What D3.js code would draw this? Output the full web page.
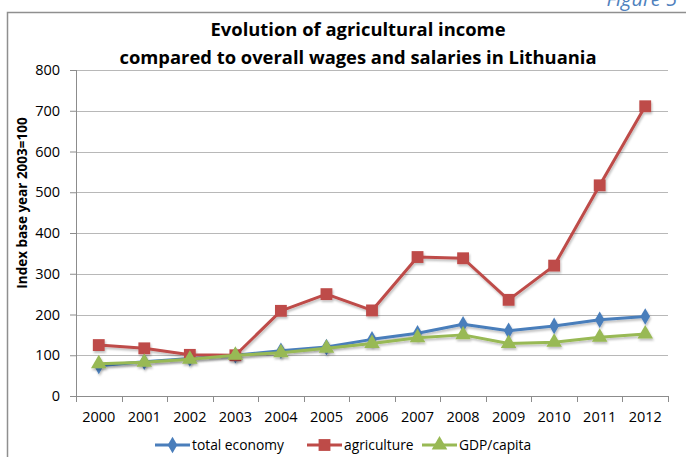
<!DOCTYPE html>
<html>
<head>
<meta charset="utf-8">
<script src="https://cdn.jsdelivr.net/npm/d3@7"></script>
<style>
  body { margin: 0; background: #fff; }
  text { font-family: "Open Sans", sans-serif; fill: #000; }
  .grid line { stroke: #b8b8b8; }
  .axis path, .axis line { stroke: #8c8c8c; }
  .axis text { font-size: 14.5px; }
  .series path.line { fill: none; stroke-width: 3px; stroke-linejoin: round; }
</style>
</head>
<body>
<div class="chart"></div>
<script>
// Evolution of agricultural income vs wages, Lithuania (index 2003=100)
var years = ["2000", "2001", "2002", "2003", "2004", "2005", "2006", "2007", "2008", "2009", "2010", "2011", "2012"];
var totalEconomy = [74, 84, 92, 100, 111, 120, 139, 154, 176, 160, 172, 187, 195];
var agriculture = [125, 117, 101, 100, 209, 250, 210, 341, 338, 236, 320, 517, 711];
var gdpCapita = [79, 83, 90, 100, 106, 117, 129, 143, 150, 129, 132, 144, 152];
var yTicks = [0, 100, 200, 300, 400, 500, 600, 700, 800];
var seriesNames = ["total economy", "agriculture", "GDP/capita"];

var width = 686,
	height = 457,
	margin = {top: 70, right: 18, bottom: 61, left: 76},
	w = width - margin.left - margin.right,
	h = height - margin.top - margin.bottom;

var svg = d3.select(".chart").append("svg")
	.attr("width", width)
	.attr("height", height);

// soft shadow like the office chart lines
var shadow = svg.append("defs").append("filter")
	.attr("id", "shadow")
	.attr("x", "-10%").attr("y", "-10%")
	.attr("width", "120%").attr("height", "130%");
shadow.append("feDropShadow")
	.attr("dx", 1).attr("dy", 2)
	.attr("stdDeviation", 1.2)
	.attr("flood-color", "#000")
	.attr("flood-opacity", 0.25);

// outer frame of the figure
svg.append("path")
	.attr("d", "M7.5," + height + "V12.5H" + width)
	.attr("fill", "none")
	.attr("stroke", "#8f8f8f")
	.attr("stroke-width", 1.5);

svg.append("text")
	.attr("x", 677)
	.attr("y", 6)
	.attr("text-anchor", "end")
	.style("font-size", "20px")
	.style("font-style", "italic")
	.style("fill", "#4f81bd")
	.text("Figure 5");

var title = svg.append("g").attr("class", "title");
title.append("text")
	.attr("x", 358).attr("y", 36)
	.attr("text-anchor", "middle")
	.attr("textLength", 295).attr("lengthAdjust", "spacingAndGlyphs")
	.style("font-size", "18px").style("font-weight", "bold")
	.text("Evolution of agricultural income");
title.append("text")
	.attr("x", 358).attr("y", 64)
	.attr("text-anchor", "middle")
	.attr("textLength", 477).attr("lengthAdjust", "spacingAndGlyphs")
	.style("font-size", "18px").style("font-weight", "bold")
	.text("compared to overall wages and salaries in Lithuania");

var g = svg.append("g")
	.attr("transform", "translate(" + margin.left + "," + margin.top + ")");

var x = d3.scaleBand().domain(years).range([0, w]).padding(0),
	y = d3.scaleLinear().domain([0, 800]).range([h, 0]);

var colors = d3.scaleOrdinal()
	.domain(seriesNames)
	.range(["#4a7ebb", "#be4b48", "#98b954"]);
var symbols = [d3.symbolDiamond, d3.symbolSquare, d3.symbolTriangle];
var symSizes = [80, 140, 105];

// horizontal gridlines
g.append("g")
	.attr("class", "grid")
	.selectAll("line")
	.data(yTicks.slice(1))
	.enter().append("line")
		.attr("x1", 0)
		.attr("x2", w)
		.attr("y1", function(d) { return Math.round(y(d)) + 0.5; })
		.attr("y2", function(d) { return Math.round(y(d)) + 0.5; });

var yAxis = g.append("g")
	.attr("class", "axis axis--y")
	.call(d3.axisLeft(y).tickValues(yTicks).tickSize(6).tickPadding(10));
yAxis.select(".domain").attr("d", "M0.5,0V" + h);

var xAxis = g.append("g")
	.attr("class", "axis axis--x")
	.attr("transform", "translate(0," + h + ")")
	.call(d3.axisBottom(x).tickSize(0).tickPadding(16));
xAxis.select(".domain").attr("d", "M0,0.5H" + w);
xAxis.selectAll(".bound")
	.data(d3.range(years.length + 1))
	.enter().append("line")
		.attr("class", "bound")
		.attr("x1", function(i) { return Math.round(i * x.bandwidth()) + 0.5; })
		.attr("x2", function(i) { return Math.round(i * x.bandwidth()) + 0.5; })
		.attr("y1", 0)
		.attr("y2", 6);

g.append("text")
	.attr("transform", "translate(-49," + (h / 2 - 30) + ") rotate(-90)")
	.attr("text-anchor", "middle")
	.style("font-size", "13.5px")
	.style("font-weight", "bold")
	.text("Index base year 2003=100");

var data = [totalEconomy, agriculture, gdpCapita].map(function(vals, i) {
	return {
		id: seriesNames[i],
		sym: d3.symbol().type(symbols[i]).size(symSizes[i]),
		values: vals.map(function(v, j) { return {year: years[j], value: v}; })
	};
});

var myline = d3.line()
	.x(function(d) { return x(d.year) + x.bandwidth() / 2; })
	.y(function(d) { return y(d.value); });

var series = g.selectAll(".series")
	.data(data)
	.enter().append("g")
		.attr("class", "series")
		.attr("filter", "url(#shadow)");

series.append("path")
	.attr("class", "line")
	.attr("d", function(d) { return myline(d.values); })
	.style("stroke", function(d) { return colors(d.id); });

series.each(function(s) {
	d3.select(this).selectAll(".mark")
		.data(s.values)
		.enter().append("path")
			.attr("class", "mark")
			.attr("transform", function(d) { return "translate(" + (x(d.year) + x.bandwidth() / 2) + "," + y(d.value) + ")"; })
			.attr("d", s.sym())
			.style("fill", colors(s.id));
});

// legend
var legendX = [155, 307, 422];
var legend = svg.selectAll(".legend")
	.data(data)
	.enter().append("g")
		.attr("class", "legend")
		.attr("transform", function(d, i) { return "translate(" + legendX[i] + ",445)"; });

legend.append("line")
	.attr("x1", 0).attr("x2", 35)
	.attr("y1", 0).attr("y2", 0)
	.style("stroke", function(d) { return colors(d.id); })
	.style("stroke-width", 3);
legend.append("path")
	.attr("transform", "translate(17.5,0)")
	.attr("d", function(d) { return d.sym(); })
	.style("fill", function(d) { return colors(d.id); });
legend.append("text")
	.attr("x", 37)
	.attr("dy", "0.35em")
	.style("font-size", "13.8px")
	.text(function(d) { return d.id; });
</script>
</body>
</html>
